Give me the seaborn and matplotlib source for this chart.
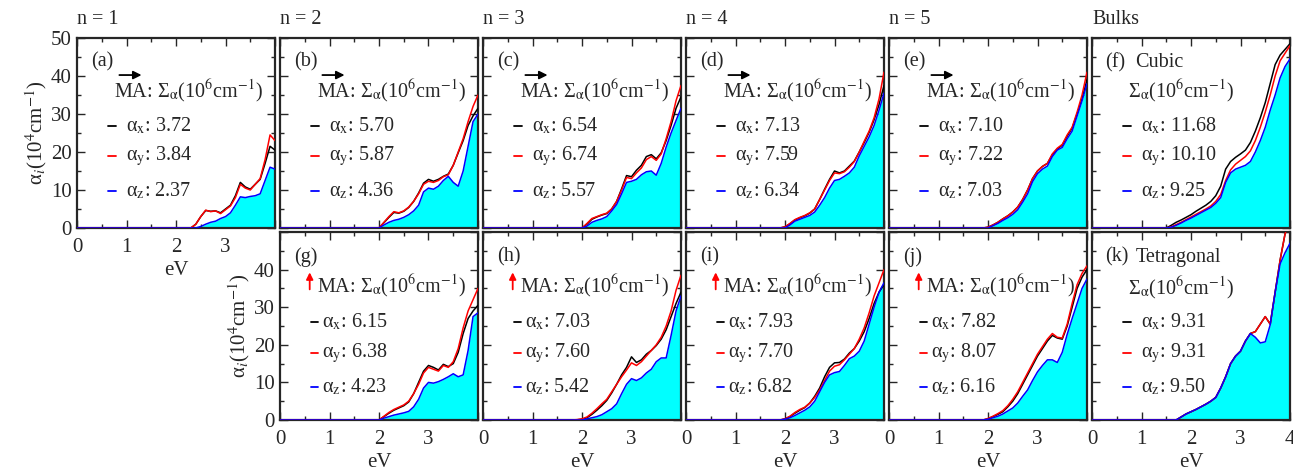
import matplotlib
matplotlib.use("Agg")
import matplotlib.pyplot as plt
import seaborn as sns
from matplotlib.ticker import MultipleLocator

sns.set_style("ticks")
plt.rcParams['font.family'] = ['Liberation Serif', 'DejaVu Serif']
plt.rcParams['mathtext.fontset'] = 'stix'

# photon energy grid (eV): 0, then 1.5 ... 4.0 in 0.1 steps
E = [0.0, 1.5, 1.6, 1.7, 1.8, 1.9,
     2.0, 2.1, 2.2, 2.3, 2.4, 2.5, 2.6, 2.7, 2.8, 2.9,
     3.0, 3.1, 3.2, 3.3, 3.4, 3.5, 3.6, 3.7, 3.8, 3.9, 4.0]

# absorption coefficients (10^4 cm^-1)
a_x = [0, 0, 0, 0, 0, 0, 0, 0, 0, 0, 1.0, 3.0, 4.6, 4.4, 4.5, 4.0,
       5.0, 6.0, 8.5, 12.0, 10.8, 10.2, 11.5, 12.8, 17.0, 21.5, 20.5]
a_y = [0, 0, 0, 0, 0, 0, 0, 0, 0, 0, 1.0, 3.0, 4.7, 4.3, 4.5, 3.8,
       4.8, 5.8, 8.0, 11.5, 10.5, 10.0, 11.5, 13.0, 18.0, 24.5, 23.0]
a_z = [0, 0, 0, 0, 0, 0, 0, 0, 0, 0, 0, 0.4, 1.0, 1.5, 1.8, 2.5,
       3.0, 4.0, 6.0, 8.2, 8.0, 8.3, 8.5, 9.0, 12.5, 16.0, 15.5]

b_x = [0, 0, 0, 0, 0, 0, 0, 1.4, 2.8, 4.1, 3.9, 4.4, 5.4, 7.0, 9.2, 11.8,
       12.8, 12.3, 12.8, 13.6, 14.2, 16.5, 19.8, 23.0, 27.0, 29.5, 31.5]
b_y = [0, 0, 0, 0, 0, 0, 0, 1.5, 3.0, 4.3, 4.0, 4.5, 5.5, 7.0, 9.0, 11.5,
       12.3, 12.0, 12.5, 13.5, 14.0, 16.5, 20.0, 23.5, 28.0, 32.0, 35.0]
b_z = [0, 0, 0, 0, 0, 0, 0, 0.8, 1.5, 2.0, 2.3, 2.8, 3.5, 4.5, 6.0, 9.5,
       10.5, 10.2, 11.0, 12.5, 13.6, 12.0, 11.0, 15.0, 21.5, 28.0, 30.0]

c_x = [0, 0, 0, 0, 0, 0, 0, 1.0, 2.3, 2.9, 3.4, 3.8, 5.0, 7.0, 10.3, 13.8,
       13.5, 15.2, 16.5, 18.8, 19.3, 18.2, 19.8, 23.0, 27.0, 31.5, 34.5]
c_y = [0, 0, 0, 0, 0, 0, 0, 1.2, 2.5, 3.0, 3.5, 3.9, 5.0, 7.0, 10.0, 13.3,
       13.0, 14.5, 15.8, 18.0, 18.8, 17.8, 19.5, 23.5, 28.0, 33.5, 37.5]
c_z = [0, 0, 0, 0, 0, 0, 0, 0.5, 1.5, 2.0, 2.4, 3.0, 4.5, 6.2, 9.0, 12.0,
       12.3, 12.8, 14.0, 14.8, 15.0, 13.9, 17.0, 21.3, 25.0, 28.3, 31.5]

d_x = [0, 0, 0, 0, 0, 0, 0.3, 1.1, 2.1, 2.7, 3.2, 3.9, 5.0, 7.5, 10.2, 12.8,
       15.0, 14.5, 15.0, 16.3, 17.6, 20.0, 22.5, 25.2, 28.5, 32.5, 37.5]
d_y = [0, 0, 0, 0, 0, 0, 0.3, 1.2, 2.2, 2.8, 3.3, 4.0, 5.0, 7.5, 10.0, 12.5,
       14.5, 14.3, 14.8, 16.0, 17.5, 20.0, 22.8, 25.5, 29.0, 34.0, 41.0]
d_z = [0, 0, 0, 0, 0, 0, 0, 0.8, 1.8, 2.3, 2.8, 3.3, 4.2, 6.0, 8.0, 10.5,
       12.5, 12.8, 13.6, 14.5, 16.0, 19.0, 21.5, 24.0, 27.0, 31.0, 35.5]

e_x = [0, 0, 0, 0, 0, 0, 0.2, 0.8, 1.5, 2.4, 3.2, 4.2, 5.5, 7.5, 10.0, 13.0,
       15.0, 16.2, 17.0, 19.3, 20.8, 21.8, 24.2, 26.3, 30.0, 34.0, 39.0]
e_y = [0, 0, 0, 0, 0, 0, 0.2, 0.8, 1.5, 2.4, 3.2, 4.2, 5.5, 7.5, 10.0, 13.0,
       15.0, 16.2, 17.0, 19.5, 21.0, 22.0, 24.5, 26.5, 30.5, 35.0, 41.0]
e_z = [0, 0, 0, 0, 0, 0, 0, 0.6, 1.2, 2.0, 2.7, 3.6, 4.8, 6.8, 9.0, 12.2,
       14.3, 15.5, 16.3, 18.8, 20.5, 21.2, 23.5, 25.5, 29.5, 33.5, 38.0]

f_x = [0, 0, 0.7, 1.5, 2.1, 2.8, 3.5, 4.4, 5.2, 6.0, 7.0, 8.5, 11.0, 15.5, 17.5, 18.6,
       19.5, 20.5, 22.5, 25.5, 29.0, 33.0, 38.0, 43.0, 45.5, 47.0, 48.5]
f_y = [0, 0, 0.3, 0.9, 1.5, 2.2, 2.9, 3.6, 4.3, 5.0, 5.8, 7.0, 8.8, 12.5, 15.3, 16.8,
       17.8, 18.8, 20.3, 23.0, 26.5, 30.5, 35.0, 40.0, 44.0, 46.0, 48.0]
f_z = [0, 0, 0.2, 0.7, 1.3, 2.0, 2.6, 3.3, 4.0, 4.7, 5.4, 6.5, 8.0, 12.0, 14.5, 15.5,
       16.0, 16.5, 17.5, 20.0, 23.0, 26.5, 31.0, 35.0, 39.5, 42.5, 44.5]

g_x = [0, 0, 0, 0, 0, 0, 0, 0.9, 1.8, 2.6, 3.2, 3.8, 4.8, 7.0, 10.0, 13.0,
       14.5, 14.0, 13.3, 14.8, 14.2, 15.0, 18.0, 23.0, 27.0, 29.0, 30.5]
g_y = [0, 0, 0, 0, 0, 0, 0, 1.0, 2.0, 2.8, 3.4, 4.0, 5.0, 7.0, 9.5, 12.5,
       14.0, 13.5, 13.0, 14.5, 14.0, 15.5, 19.0, 24.5, 29.0, 32.0, 35.0]
g_z = [0, 0, 0, 0, 0, 0, 0, 0.5, 0.9, 1.3, 1.6, 1.9, 2.3, 3.5, 5.5, 8.5,
       10.0, 9.8, 10.2, 10.8, 11.5, 12.3, 11.5, 12.0, 18.5, 27.5, 28.5]

h_x = [0, 0, 0, 0, 0, 0.05, 0.2, 0.6, 1.5, 2.6, 3.8, 5.2, 7.2, 9.5, 12.0, 14.0,
       16.8, 15.3, 16.0, 17.5, 18.5, 19.8, 21.5, 24.0, 27.5, 31.0, 34.0]
h_y = [0, 0, 0, 0, 0, 0.1, 0.3, 0.8, 1.8, 3.0, 4.3, 5.5, 7.5, 9.5, 11.5, 13.3,
       15.2, 14.5, 15.5, 17.0, 18.5, 20.0, 22.0, 25.0, 29.0, 34.5, 38.5]
h_z = [0, 0, 0, 0, 0, 0, 0, 0.3, 0.6, 0.9, 1.4, 2.2, 3.0, 4.3, 7.0, 9.5,
       11.0, 10.5, 11.2, 12.5, 13.5, 15.5, 16.5, 16.5, 22.5, 29.0, 33.0]

i_x = [0, 0, 0, 0, 0, 0, 0.3, 0.9, 1.8, 2.6, 3.3, 4.5, 6.3, 8.5, 11.5, 14.0,
       15.2, 15.3, 16.2, 17.8, 19.0, 21.0, 23.5, 27.0, 31.0, 34.0, 36.0]
i_y = [0, 0, 0, 0, 0, 0, 0.3, 1.0, 2.0, 2.8, 3.4, 4.5, 6.0, 8.0, 10.5, 13.0,
       14.3, 14.7, 16.0, 17.5, 19.0, 21.5, 24.5, 28.5, 33.0, 36.5, 40.0]
i_z = [0, 0, 0, 0, 0, 0, 0.2, 0.6, 1.2, 1.9, 2.6, 3.5, 5.0, 7.5, 10.0, 12.0,
       12.6, 12.9, 14.5, 16.3, 17.0, 18.3, 21.0, 25.5, 30.0, 34.0, 36.5]

j_x = [0, 0, 0, 0, 0, 0, 0.3, 0.9, 1.5, 2.2, 3.5, 5.0, 7.0, 9.5, 12.0, 14.5,
       17.0, 19.0, 21.0, 22.5, 21.8, 21.5, 25.0, 30.0, 35.0, 38.0, 40.0]
j_y = [0, 0, 0, 0, 0, 0, 0.4, 1.0, 1.7, 2.5, 3.8, 5.5, 7.5, 10.0, 12.5, 15.0,
       17.5, 19.5, 21.5, 23.0, 22.0, 21.8, 25.5, 31.0, 36.0, 39.0, 41.0]
j_z = [0, 0, 0, 0, 0, 0, 0.2, 0.6, 1.0, 1.6, 2.4, 3.2, 4.5, 6.3, 8.0, 10.5,
       12.8, 14.5, 16.0, 16.0, 15.3, 18.0, 22.8, 27.0, 31.0, 35.0, 37.5]

k_x = [0, 0, 0, 0, 0.8, 1.6, 2.2, 2.8, 3.5, 4.2, 5.0, 6.0, 8.5, 11.5, 15.0, 17.0,
       18.3, 21.0, 23.0, 23.5, 25.5, 27.5, 25.5, 34.0, 42.5, 49.5, 53.0]
k_y = [0, 0, 0, 0, 0.8, 1.6, 2.2, 2.8, 3.5, 4.2, 5.0, 6.0, 8.5, 11.5, 15.0, 17.0,
       18.3, 21.0, 23.0, 23.5, 25.5, 27.5, 25.5, 34.0, 42.5, 49.5, 53.0]
k_z = [0, 0, 0, 0, 0.8, 1.6, 2.2, 2.8, 3.5, 4.2, 5.0, 6.0, 8.5, 11.5, 15.0, 17.0,
       18.3, 21.0, 23.0, 22.0, 20.5, 20.8, 25.3, 34.0, 41.5, 44.5, 47.0]

# integrated absorption Sigma_alpha (10^6 cm^-1)
sig_a = ["3.72", "3.84", "2.37"]
sig_b = ["5.70", "5.87", "4.36"]
sig_c = ["6.54", "6.74", "5.57"]
sig_d = ["7.13", "7.59", "6.34"]
sig_e = ["7.10", "7.22", "7.03"]
sig_f = ["11.68", "10.10", "9.25"]
sig_g = ["6.15", "6.38", "4.23"]
sig_h = ["7.03", "7.60", "5.42"]
sig_i = ["7.93", "7.70", "6.82"]
sig_j = ["7.82", "8.07", "6.16"]
sig_k = ["9.31", "9.31", "9.50"]

col_titles = ["n = 1", "n = 2", "n = 3", "n = 4", "n = 5", "Bulks"]

# letter, row, col, data, sums, bulk phase name
panels = [
    ("a", 0, 0, (a_x, a_y, a_z), sig_a, None),
    ("b", 0, 1, (b_x, b_y, b_z), sig_b, None),
    ("c", 0, 2, (c_x, c_y, c_z), sig_c, None),
    ("d", 0, 3, (d_x, d_y, d_z), sig_d, None),
    ("e", 0, 4, (e_x, e_y, e_z), sig_e, None),
    ("f", 0, 5, (f_x, f_y, f_z), sig_f, "Cubic"),
    ("g", 1, 1, (g_x, g_y, g_z), sig_g, None),
    ("h", 1, 2, (h_x, h_y, h_z), sig_h, None),
    ("i", 1, 3, (i_x, i_y, i_z), sig_i, None),
    ("j", 1, 4, (j_x, j_y, j_z), sig_j, None),
    ("k", 1, 5, (k_x, k_y, k_z), sig_k, "Tetragonal"),
]

W, H = 1293, 470
FS = 14.5
lefts = [77, 280, 483, 686, 889, 1092]
fig = plt.figure(figsize=(W / 100, H / 100), dpi=100)

SIGMA = r"Σ$_{\mathrm{α}}$(10$^{6}$cm$^{\mathrm{-1}}$)"

for letter, row, col, (vx, vy, vz), sums, bulk in panels:
    top, bot = (38, 228) if row == 0 else (232, 420)
    ax = fig.add_axes([lefts[col] / W, (H - bot) / H, 198 / W, (bot - top) / H])

    ax.fill_between(E, vz, color="#00ffff", lw=0)
    sns.lineplot(x=E, y=vx, color="black", lw=1.1, ax=ax, zorder=3)
    sns.lineplot(x=E, y=vy, color="red", lw=1.1, ax=ax, zorder=3)
    sns.lineplot(x=E, y=vz, color="blue", lw=1.1, ax=ax, zorder=3)

    ax.set_xlim(0, 4)
    ax.set_ylim(0, 50)
    ax.set_xticks([0, 1, 2, 3, 4])
    ax.set_yticks([0, 10, 20, 30, 40, 50])
    ax.xaxis.set_minor_locator(MultipleLocator(0.5))
    ax.yaxis.set_minor_locator(MultipleLocator(5))
    ax.tick_params(which="both", direction="in", top=True, right=True,
                   labelsize=FS + 0.5, width=1.0)
    ax.tick_params(axis="x", pad=7)
    ax.tick_params(axis="y", pad=4)
    ax.tick_params(which="major", length=6)
    ax.tick_params(which="minor", length=3)
    for s in ax.spines.values():
        s.set_linewidth(1.6)
    ax.set_xlabel("")
    ax.set_ylabel("")

    # tick labels only on the outer panels
    if letter == "a":
        ax.set_xticklabels(["0", "1", "2", "3", ""])
        ax.set_yticklabels(["0", "10", "20", "30", "40", "50"])
    elif row == 1:
        ax.set_xticklabels(["0", "1", "2", "3", "4" if letter == "k" else ""])
        if letter == "g":
            ax.set_yticklabels(["0", "10", "20", "30", "40", ""])
        else:
            ax.set_yticklabels([])
    else:
        ax.set_xticklabels([])
        ax.set_yticklabels([])

    if letter == "a" or row == 1:
        ax.set_xlabel("eV", fontsize=FS + 0.5, labelpad=3)
    if letter in ("a", "g"):
        ax.set_ylabel(r"α$_{i}$(10$^{4}$cm$^{\mathrm{-1}}$)", fontsize=FS + 0.5, labelpad=1)

    if row == 0:
        ax.text(0, 1.05, col_titles[col], transform=ax.transAxes,
                ha="left", va="bottom", fontsize=FS)

    # in-panel legend
    tr = ax.transAxes
    if row == 0:
        ys = [0.537, 0.379, 0.196]
        lab_y, sig_y = 0.872, 0.717
    else:
        ys = [0.523, 0.355, 0.174]
        lab_y, sig_y = 0.867, 0.712

    if bulk is None:
        ax.text(0.07, lab_y, f"({letter})", transform=tr, va="center", fontsize=FS)
        ax.text(0.185, sig_y, "MA: " + SIGMA, transform=tr, va="center", fontsize=FS)
        if row == 0:
            ax.annotate("", xy=(0.34, 0.805), xytext=(0.2, 0.805), xycoords="axes fraction",
                        arrowprops=dict(arrowstyle="-|>", color="black", lw=1.3,
                                        mutation_scale=12))
        else:
            ax.annotate("", xy=(0.15, 0.80), xytext=(0.15, 0.68), xycoords="axes fraction",
                        arrowprops=dict(arrowstyle="-|>", color="red", lw=1.3,
                                        mutation_scale=10))
    else:
        ax.text(0.065, lab_y, f"({letter})", transform=tr, va="center", fontsize=FS)
        ax.text(0.22, lab_y, bulk, transform=tr, va="center", fontsize=FS)
        ax.text(0.18, sig_y - (0.01 if row == 1 else 0), SIGMA,
                transform=tr, va="center", fontsize=FS)

    if row == 0 or bulk is not None:
        hx0, hx1, tx = 0.155, 0.195, 0.245
    else:
        hx0, hx1, tx = 0.155, 0.19, 0.21
    for y, c, comp, val in zip(ys, ["black", "red", "blue"], ["x", "y", "z"], sums):
        ax.plot([hx0, hx1], [y, y], transform=tr, color=c, lw=1.3)
        ax.text(tx, y, rf"α$_{{\mathrm{{{comp}}}}}$: {val}", transform=tr,
                va="center", fontsize=FS)

fig.savefig("out.png", dpi=100)
